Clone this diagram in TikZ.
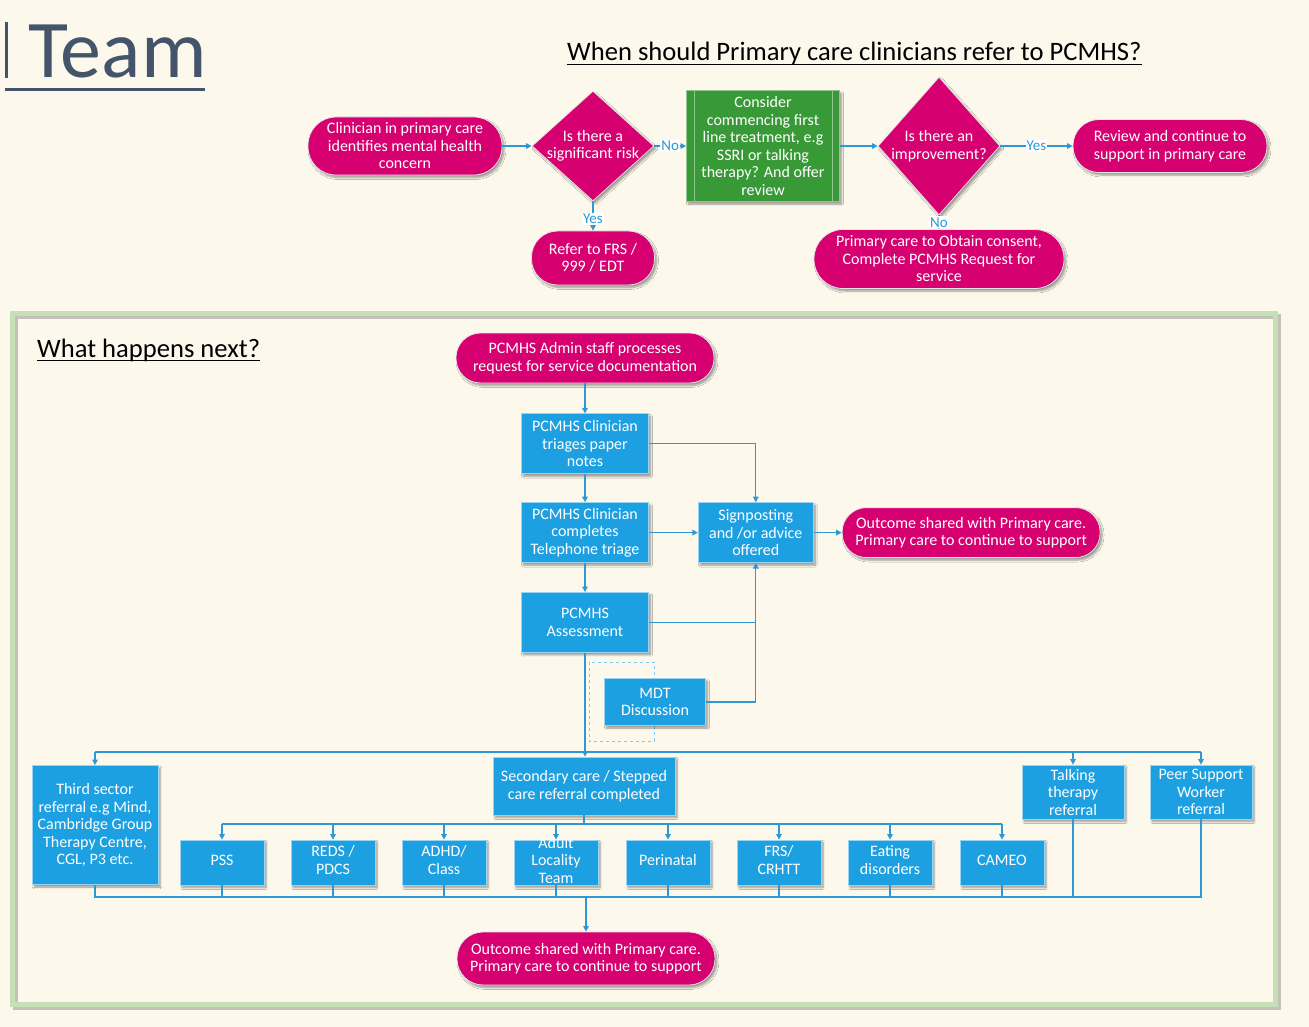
\documentclass[tikz,border=0pt]{standalone}
\usepackage{fontspec}
\setmainfont{Carlito}
\usetikzlibrary{positioning,shapes.geometric,shadows.blur,arrows.meta}

\definecolor{cream}{RGB}{253,248,236}
\definecolor{pcpink}{RGB}{214,0,112}
\definecolor{pcblue}{RGB}{28,160,225}
\definecolor{flowblue}{RGB}{44,152,212}
\definecolor{treatgreen}{RGB}{56,154,54}
\definecolor{framegreen}{RGB}{197,224,180}
\definecolor{slate}{RGB}{68,84,106}

% zero-width line, so the diamond keeps its own size
\newcommand{\zw}[1]{\makebox[0pt]{#1}}
% lines that may stick out of a short box
\newcommand{\boxlines}[1]{\smash{\raisebox{-0.25em}{\begin{tabular}{@{}c@{}}#1\end{tabular}}}}

\begin{document}
\begin{tikzpicture}[x=1pt, y=-1pt,
  every node/.style={font=\fontsize{16}{17.5}\selectfont, align=center},
  softshadow/.style={blur shadow={shadow blur steps=6, shadow xshift=2pt, shadow yshift=-2.5pt, shadow opacity=40}},
  pill/.style={rectangle, rounded corners=#1, fill=pcpink, draw=white!80!gray, line width=0.8pt, text=white, inner sep=0pt, softshadow},
  pill/.default=24pt,
  decision/.style={diamond, fill=pcpink, draw=white!80!gray, line width=0.8pt, text=white, inner sep=0pt, softshadow},
  stepbox/.style={rectangle, fill=pcblue, draw=white!55!pcblue, line width=0.8pt, text=white, inner sep=0pt, softshadow},
  treatbox/.style={rectangle, fill=treatgreen, draw=white!45!treatgreen, line width=0.8pt, text=white, inner sep=0pt, softshadow},
  answer/.style={fill=white, text=flowblue, inner sep=1pt, font=\fontsize{15}{15}\selectfont},
  flow/.style={draw=flowblue, line width=1.3pt, -{Triangle[length=5.5pt,width=5.5pt]}},
  link/.style={draw=flowblue, line width=1.3pt},
  heading/.style={font=\fontsize{26.6}{30}\selectfont, inner sep=0pt, anchor=base west}]

  \useasboundingbox (0,0) rectangle (1309,1027);
  \fill[cream] (0,0) rectangle (1309,1027);

  % title and headings
  \fill[slate] (5,22) rectangle (8,78);
  \node[anchor=base west, inner sep=0pt, text=slate, font=\fontsize{82}{82}\selectfont] (team) at (28,78) {Team};
  \draw[slate, line width=3pt] (5,90) -- (205,90);
  \node[heading] (askhead) at (567,61) {When should Primary care clinicians refer to PCMHS?};
  \draw[line width=1.5pt] ([yshift=-3.5pt]askhead.base west) -- ([yshift=-3.5pt]askhead.base east);

  % frame of the lower part
  \draw[black!45, opacity=0.5, line width=5pt] (15,316) rectangle (1278,1007);
  \draw[framegreen, line width=5pt] (12.5,313.5) rectangle (1275.5,1004.5);
  \node[heading] (nexthead) at (37,357) {What happens next?};
  \draw[line width=1.5pt] ([yshift=-3.5pt]nexthead.base west) -- ([yshift=-3.5pt]nexthead.base east);

  % when to refer
  \node[pill=28pt, minimum width=194pt, minimum height=58pt] (clinician) at (405,146) {Clinician in primary care\\identifies mental health\\concern};
  \node[decision, minimum width=122pt, minimum height=110pt] (risk) at (593,146) {\zw{Is there a}\\\zw{significant risk}};
  \node[treatbox, minimum width=153pt, minimum height=111pt] (treat) at (763,146) {Consider\\commencing first\\line treatment, e.g\\SSRI or talking\\therapy? And offer\\review};
  \draw[white!45!treatgreen, line width=0.8pt] ([xshift=8pt]treat.north west) -- ([xshift=8pt]treat.south west);
  \draw[white!45!treatgreen, line width=0.8pt] ([xshift=-8pt]treat.north east) -- ([xshift=-8pt]treat.south east);
  \node[decision, minimum width=122pt, minimum height=138pt] (improve) at (939,146) {\zw{Is there an}\\\zw{improvement?}};
  \node[pill=26pt, minimum width=194pt, minimum height=53pt] (review) at (1170,146) {Review and continue to\\support in primary care};
  \node[pill=26pt, minimum width=123pt, minimum height=54pt] (refer) at (593,258) {Refer to FRS /\\999 / EDT};
  \node[pill=29pt, minimum width=250pt, minimum height=59pt] (primary) at (939,259) {Primary care to Obtain consent,\\Complete PCMHS Request for\\service};

  \draw[flow] (clinician) -- (risk);
  \draw[flow] (risk) -- node[answer] {No} (treat);
  \draw[flow] (treat) -- (improve);
  \draw[flow] (improve) -- node[answer] {Yes} (review);
  \draw[flow] (risk) -- node[answer, pos=0.6] {Yes} (refer);
  \draw[flow] (improve) -- node[answer] {No} (primary);

  % what happens next
  \node[pill=24.5pt, minimum width=258pt, minimum height=50pt] (admin) at (585,358) {PCMHS Admin staff processes\\request for service documentation};
  \node[stepbox, minimum width=127pt, minimum height=60pt, below=30pt of admin] (triage) {PCMHS Clinician\\triages paper\\notes};
  \node[stepbox, minimum width=127pt, minimum height=60pt, below=28pt of triage] (phone) {PCMHS Clinician\\completes\\Telephone triage};
  \node[stepbox, minimum width=127pt, minimum height=60pt, below=29pt of phone] (assess) {PCMHS\\Assessment};
  \node[stepbox, minimum width=115pt, minimum height=60pt, right=49pt of phone] (signpost) {Signposting\\and /or advice\\offered};
  \node[pill=24.5pt, minimum width=258pt, minimum height=50pt, right=28pt of signpost] (outcome) {Outcome shared with Primary care.\\Primary care to continue to support};
  \draw[pcblue!55, line width=1pt, dashed] (589,662) rectangle (654,741);
  \node[stepbox, minimum width=101pt, minimum height=47pt] (mdt) at (655,702) {MDT\\Discussion};
  \node[stepbox, minimum width=182pt, minimum height=58pt] (secondary) at (584,786) {Secondary care / Stepped\\care referral completed};
  \node[stepbox, minimum width=126pt, minimum height=119pt] (third) at (95,825) {Third sector\\referral e.g Mind,\\Cambridge Group\\Therapy Centre,\\CGL, P3 etc.};
  \node[stepbox, minimum width=102pt, minimum height=54pt] (talking) at (1073,792) {Talking\\therapy\\referral};
  \node[stepbox, minimum width=102pt, minimum height=54pt] (peer) at (1201,792) {Peer Support\\Worker\\referral};
  \foreach \cx/\name/\txt in {222/pss/PSS, 333/reds/{REDS /\\PDCS}, 444/adhd/{ADHD/\\Class}, 556/adult/{Adult\\Locality\\Team}, 668/perinatal/Perinatal, 779/frs/{FRS/\\CRHTT}, 890/eating/{Eating\\disorders}, 1002/cameo/CAMEO}
    \node[stepbox, minimum width=84pt, minimum height=45pt] (\name) at (\cx,862.5) {\boxlines{\txt}};
  \node[pill=26pt, minimum width=258pt, minimum height=53pt] (finish) at (586,958.5) {Outcome shared with Primary care.\\Primary care to continue to support};

  \draw[flow] (admin) -- (triage);
  \draw[flow] (triage) -- (phone);
  \draw[flow] (phone) -- (assess);
  \draw[flow] (triage.east) -| (signpost.north);
  \draw[flow] (phone) -- (signpost);
  \draw[flow] (signpost) -- (outcome);
  \draw[link] (assess.east) -- (assess.east -| signpost.south);
  \draw[flow] (mdt.east) -| (signpost.south);
  \draw[flow] (assess.south) -- (assess.south |- secondary.north);

  \coordinate (bus) at (585,752);
  \draw[link] (bus -| third.north) -- (bus -| peer.north);
  \draw[flow] (bus -| third.north) -- (third.north);
  \draw[flow] (bus -| talking.north) -- (talking.north);
  \draw[flow] (bus -| peer.north) -- (peer.north);

  \coordinate (rowbus) at (584,824);
  \draw[link] (secondary.south) -- (secondary.south |- rowbus);
  \draw[link] (rowbus -| pss.north) -- (rowbus -| cameo.north);
  \foreach \name in {pss,reds,adhd,adult,perinatal,frs,eating,cameo}
    \draw[flow] (rowbus -| \name.north) -- (\name.north);

  \coordinate (endbus) at (586,897);
  \draw[link] (third.south) |- (endbus -| peer.south) -- (peer.south);
  \draw[link] (talking.south) -- (talking.south |- endbus);
  \foreach \name in {pss,reds,adhd,adult,perinatal,frs,eating,cameo}
    \draw[link] (\name.south) -- (\name.south |- endbus);
  \draw[flow] (endbus) -- (finish.north);

\end{tikzpicture}
\end{document}
